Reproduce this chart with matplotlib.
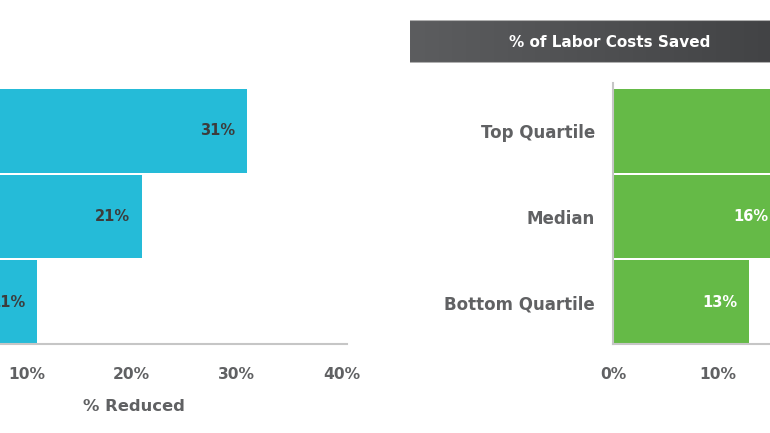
import numpy as np
import matplotlib.pyplot as plt

categories = ['Bottom Quartile', 'Median', 'Top Quartile']
reduced = [11, 21, 31]
saved = [13, 16, 20]
ticks = [0, 10, 20, 30, 40]
tick_labels = ['0%', '10%', '20%', '30%', '40%']

W, H = 770, 433
BLUE = '#25bbd8'
GREEN = '#65ba47'
GREY = '#606163'
LINE = '#c6c6c6'

plt.rcParams['font.family'] = ['DejaVu Sans']
plt.rcParams['font.weight'] = 'bold'

fig = plt.figure(figsize=(7.7, 4.33), dpi=100)


def box(x0, x1, y0, y1):
    # pixel box (top-left origin) -> figure fraction
    return [x0 / W, 1 - y1 / H, (x1 - x0) / W, (y1 - y0) / H]


def panel(ax, values, color, label_color):
    y = np.arange(len(values))
    ax.barh(y, values, height=0.975, color=color)
    ax.set_xlim(0, 40.5)
    ax.set_ylim(-0.4875, 2.558)
    ax.set_xticks(ticks)
    ax.set_xticklabels(tick_labels, fontsize=11.2, color=GREY, fontweight='bold')
    ax.tick_params(length=0, pad=16.5)
    for s in ['top', 'right']:
        ax.spines[s].set_visible(False)
    for s in ['left', 'bottom']:
        ax.spines[s].set_color(LINE)
        ax.spines[s].set_linewidth(1.5)
    for yi, v in zip(y, values):
        ax.annotate(f'{v}%', (v, yi), xytext=(-12, 0), textcoords='offset pixels',
                    ha='right', va='center', fontsize=10.5, fontweight='bold',
                    color=label_color)


# left panel: mostly off the left edge
ax1 = fig.add_axes(box(-78.5, 347, 83, 344))
panel(ax1, reduced, BLUE, '#3c3c3c')
ax1.set_yticks([])
ax1.set_xlabel('% Reduced', fontsize=11.8, color=GREY, fontweight='bold', labelpad=12.5)

# right panel
ax2 = fig.add_axes(box(613, 1038, 83, 344))
panel(ax2, saved, GREEN, 'white')
ax2.set_yticks(np.arange(len(categories)))
ax2.set_yticklabels(categories, fontsize=12, color=GREY, fontweight='bold')
ax2.tick_params(axis='y', pad=13)

# header bar with gradient
hx = fig.add_axes(box(410, 800, 20, 63))
grad = np.linspace(0, 1, 256).reshape(1, -1)
cmap = plt.matplotlib.colors.LinearSegmentedColormap.from_list('hdr', ['#5c5d5f', '#404143'])
hx.imshow(grad, aspect='auto', cmap=cmap, extent=[0, 1, 0, 1])
hx.set_xlim(0, 1)
hx.set_ylim(0, 1)
hx.axis('off')
hx.axhline(1, color='#b0b0b0', lw=1.5)
hx.axhline(0, color='#b0b0b0', lw=1.5)
fig.text(610 / W, 1 - 42.5 / H, '% of Labor Costs Saved', ha='center', va='center',
         fontsize=11, color='white', fontweight='bold')

fig.savefig('out.png', dpi=100)
